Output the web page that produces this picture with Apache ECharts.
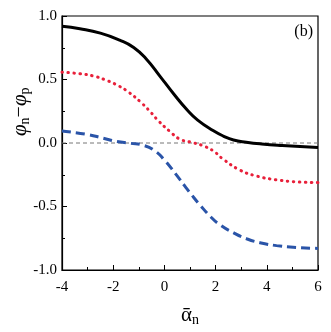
<!DOCTYPE html>
<html><head><meta charset="utf-8">
<script src="https://cdn.jsdelivr.net/npm/echarts@6/dist/echarts.min.js"></script>
<style>html,body{margin:0;padding:0;background:#fff}#c{width:331px;height:332px}</style>
</head><body><div id="c"></div>
<script>
const blackX = [-4, -3.3, -2.5, -1.75, -1.2, -0.7, -0.17, 0.35, 0.9, 1.3, 1.9, 2.3, 2.7, 3.2, 3.8, 4.6, 6];
const blackY = [0.92, 0.9, 0.865, 0.81, 0.752, 0.66, 0.525, 0.39, 0.258, 0.18, 0.098, 0.055, 0.024, 0.006, -0.008, -0.02, -0.036];
const redX = [-4, -3.3, -2.78, -2.32, -1.8, -1.41, -0.89, -0.56, -0.24, 0.22, 0.61, 1.13, 1.59, 1.95, 2.3, 2.95, 3.6, 4.38, 5.17, 6];
const redY = [0.558, 0.545, 0.528, 0.498, 0.451, 0.402, 0.315, 0.248, 0.176, 0.09, 0.03, 0.002, -0.028, -0.068, -0.128, -0.213, -0.26, -0.29, -0.306, -0.312];
const blueX = [-4, -3.04, -2.39, -1.86, -1.34, -0.82, -0.37, 0.02, 0.41, 0.8, 1.07, 1.39, 1.78, 2.17, 2.69, 3.21, 3.73, 4.38, 5.03, 6];
const blueY = [0.094, 0.068, 0.038, 0.012, -0.002, -0.018, -0.062, -0.139, -0.236, -0.34, -0.41, -0.488, -0.575, -0.644, -0.706, -0.754, -0.785, -0.808, -0.821, -0.83];
const refX = [-4, 6];
const refY = [0, 0];
const xTicks = [-4, -2, 0, 2, 4, 6];
const yTicks = [-1.0, -0.5, 0.0, 0.5, 1.0];

const zip = (a, b) => a.map((v, i) => [v, b[i]]);
const font = 'Liberation Serif';
const chart = echarts.init(document.getElementById('c'), null, {renderer: 'canvas'});
chart.setOption({
  animation: false,
  backgroundColor: '#fff',
  grid: {left: 62, right: 13, top: 16, bottom: 62, outerBoundsMode: 'none', containLabel: false,
    show: true, borderColor: '#000', borderWidth: 1.2, backgroundColor: 'transparent'},
  xAxis: {
    type: 'value', min: -4, max: 6, interval: 2,
    axisLine: {show: true, onZero: false, lineStyle: {color: '#000', width: 1.2}},
    axisTick: {inside: true, length: 5, lineStyle: {color: '#000'}},
    minorTick: {show: true, splitNumber: 2, length: 3, lineStyle: {color: '#000'}},
    splitLine: {show: false},
    axisLabel: {fontFamily: font, fontSize: 15, color: '#000', margin: 10,
      formatter: v => xTicks.includes(v) ? String(v) : ''},
    name: '{a|ᾱ}{s|n}', nameLocation: 'middle', nameGap: 33,
    nameTextStyle: {rich: {a: {fontFamily: font, fontSize: 21, color: '#000'}, s: {fontFamily: font, fontSize: 14, color: '#000', padding: [10, 0, 0, 0]}}}
  },
  yAxis: {
    type: 'value', min: -1, max: 1, interval: 0.5,
    axisLine: {show: true, onZero: false, lineStyle: {color: '#000', width: 1.2}},
    axisTick: {inside: true, length: 5, lineStyle: {color: '#000'}},
    minorTick: {show: true, splitNumber: 2, length: 3, lineStyle: {color: '#000'}},
    splitLine: {show: false},
    axisLabel: {fontFamily: font, fontSize: 15, color: '#000', margin: 5,
      formatter: v => yTicks.includes(v) ? v.toFixed(1) : ''}
  },
  graphic: [
    {type: 'text', right: 18, top: 24, style: {text: '(b)', font: '16px "Liberation Serif"', fill: '#000'}},
    {type: 'text', x: 8, y: 136, rotation: Math.PI / 2,
      style: {text: '{p|φ}{s|n}{m|−}{p|φ}{s|p}', rich: {
        p: {fontFamily: font, fontSize: 21, fontStyle: 'italic', fill: '#000'},
        m: {fontFamily: font, fontSize: 20, fill: '#000'},
        s: {fontFamily: font, fontSize: 14, fill: '#000', padding: [10, 0, 0, 0]}}}}
  ],
  series: [
    {type: 'line', data: zip(refX, refY), symbol: 'none', silent: true,
      lineStyle: {color: '#777', width: 1, type: [4, 3]}},
    {type: 'line', data: zip(blackX, blackY), symbol: 'none', smooth: 0.5,
      lineStyle: {color: '#000', width: 3}},
    {type: 'line', data: zip(redX, redY), symbol: 'none', smooth: 0.5,
      lineStyle: {color: '#e8203a', width: 3, type: [0.5, 5.5], cap: 'round'}},
    {type: 'line', data: zip(blueX, blueY), symbol: 'none', smooth: 0.5,
      lineStyle: {color: '#2a54a8', width: 3, type: [9, 5]}}
  ]
});
</script></body></html>
